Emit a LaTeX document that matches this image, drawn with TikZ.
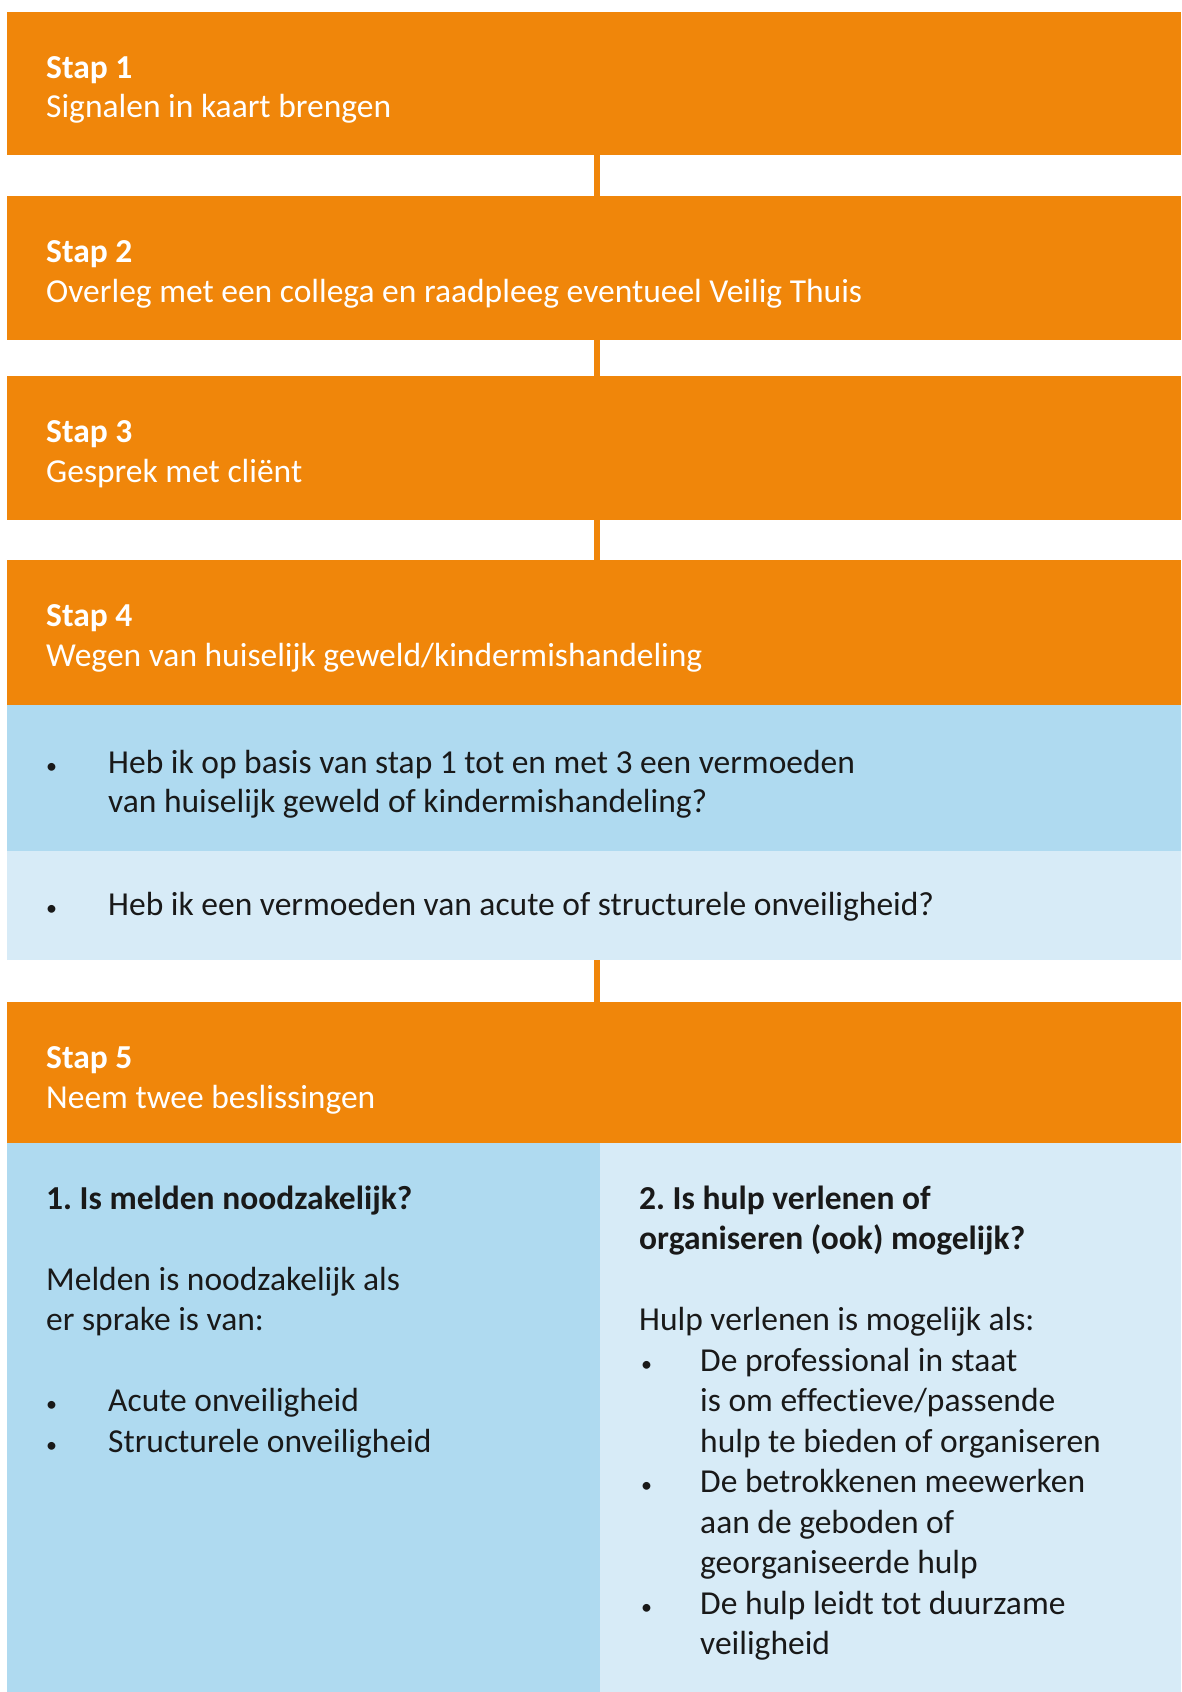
\documentclass[tikz,border=0pt]{standalone}
\usepackage{fontspec}
\setmainfont{Carlito}[Ligatures = NoCommon]
\usepackage{tikz}

\definecolor{storanje}{RGB}{240,134,10}
\definecolor{stblauw}{RGB}{175,218,240}
\definecolor{stlicht}{RGB}{215,235,247}
\definecolor{sttekst}{RGB}{25,25,25}

\tikzset{
  stapbox/.style = {fill = storanje, minimum width = 1174pt, inner sep = 0pt,
                    outer sep = 0pt, anchor = north west},
  panel/.style = {inner sep = 0pt, outer sep = 0pt, anchor = north west},
  koptekst/.style = {text = white, anchor = base west, inner sep = 0pt,
                     font = \fontsize{33.5}{40}\selectfont},
  tekst/.style = {text = sttekst, anchor = base west, inner sep = 0pt,
                  font = \fontsize{33.5}{40}\selectfont},
  bol/.style = {text = sttekst, anchor = base west, inner sep = 0pt,
                font = \fontsize{22}{22}\selectfont},
  verbinder/.style = {draw = storanje, line width = 6pt}
}

\begin{document}
\begin{tikzpicture}[x = 1pt, y = -1pt]
        \useasboundingbox[fill = white] (0,0) rectangle (1181,1692);
        % stappen
        \node[stapbox, minimum height = 143pt] (stap1) at (7,12) {};
        \node[stapbox, minimum height = 144pt] (stap2) at (7,196) {};
        \node[stapbox, minimum height = 144pt] (stap3) at (7,376) {};
        \node[stapbox, minimum height = 145pt] (stap4) at (7,560) {};
        \node[panel, fill = stblauw, minimum width = 1174pt, minimum height = 146pt] (vraag1) at (7,705) {};
        \node[panel, fill = stlicht, minimum width = 1174pt, minimum height = 109pt] (vraag2) at (7,851) {};
        \node[stapbox, minimum height = 141pt] (stap5) at (7,1002) {};
        \node[panel, fill = stblauw, minimum width = 593pt, minimum height = 549pt] (melden) at (7,1143) {};
        \node[panel, fill = stlicht, minimum width = 581pt, minimum height = 549pt] (hulp) at (600,1143) {};

        \draw[verbinder] ([xshift = 3pt]stap1.south) -- ([xshift = 3pt]stap2.north);
        \draw[verbinder] ([xshift = 3pt]stap2.south) -- ([xshift = 3pt]stap3.north);
        \draw[verbinder] ([xshift = 3pt]stap3.south) -- ([xshift = 3pt]stap4.north);
        \draw[verbinder] ([xshift = 3pt]vraag2.south) -- ([xshift = 3pt]stap5.north);

        % koppen van de stappen
        \node[koptekst] (titel1) at (46,78) {\textbf{Stap 1}};
        \node[koptekst] (sub1) at (46,117) {Signalen in kaart brengen};
        \node[koptekst] (titel2) at (46,262) {\textbf{Stap 2}};
        \node[koptekst] (sub2) at (46,302) {Overleg met een collega en raadpleeg eventueel Veilig Thuis};
        \node[koptekst] (titel3) at (46,442) {\textbf{Stap 3}};
        \node[koptekst] (sub3) at (46,482) {Gesprek met cliënt};
        \node[koptekst] (titel4) at (46,626) {\textbf{Stap 4}};
        \node[koptekst] (sub4) at (46,666) {Wegen van huiselijk geweld/kindermishandeling};
        \node[koptekst] (titel5) at (46,1068) {\textbf{Stap 5}};
        \node[koptekst] (sub5) at (46,1108) {Neem twee beslissingen};

        % vragen bij stap 4
        \node[bol] (bol1) at (46,773) {•};
        \node[tekst] (vraag1a) at (108,773) {Heb ik op basis van stap 1 tot en met 3 een vermoeden};
        \node[tekst] (vraag1b) at (108,812) {van huiselijk geweld of kindermishandeling?};
        \node[bol] (bol2) at (46,915) {•};
        \node[tekst] (vraag2a) at (108,915) {Heb ik een vermoeden van acute of structurele onveiligheid?};

        % beslissing 1
        \node[tekst] (kop1) at (46,1209) {\textbf{1.\ Is melden noodzakelijk?}};
        \node[tekst] (uitleg1a) at (46,1290) {Melden is noodzakelijk als};
        \node[tekst] (uitleg1b) at (46,1330) {er sprake is van:};
        \node[bol] (bol3) at (46,1411) {•};
        \node[tekst] (acuut) at (108,1411) {Acute onveiligheid};
        \node[bol] (bol4) at (46,1452) {•};
        \node[tekst] (structureel) at (108,1452) {Structurele onveiligheid};

        % beslissing 2
        \node[tekst] (kop2a) at (639,1209) {\textbf{2.\ Is hulp verlenen of}};
        \node[tekst] (kop2b) at (639,1249) {\textbf{organiseren (ook) mogelijk?}};
        \node[tekst] (uitleg2) at (639,1330) {Hulp verlenen is mogelijk als:};
        \node[bol] (bol5) at (641,1371) {•};
        \node[tekst] (prof1) at (700,1371) {De professional in staat};
        \node[tekst] (prof2) at (700,1411) {is om effectieve/passende};
        \node[tekst] (prof3) at (700,1452) {hulp te bieden of organiseren};
        \node[bol] (bol6) at (641,1492) {•};
        \node[tekst] (betr1) at (700,1492) {De betrokkenen meewerken};
        \node[tekst] (betr2) at (700,1533) {aan de geboden of};
        \node[tekst] (betr3) at (700,1573) {georganiseerde hulp};
        \node[bol] (bol7) at (641,1614) {•};
        \node[tekst] (duur1) at (700,1614) {De hulp leidt tot duurzame};
        \node[tekst] (duur2) at (700,1654) {veiligheid};
\end{tikzpicture}
\end{document}
